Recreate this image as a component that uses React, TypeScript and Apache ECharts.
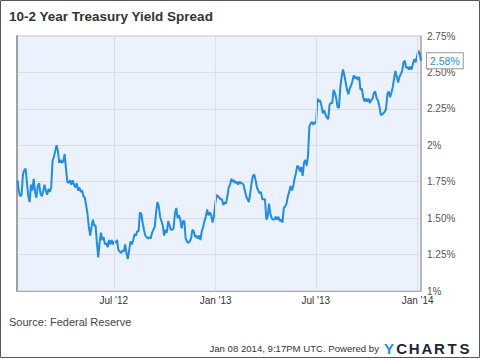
import React, { useEffect, useRef } from "react";
import * as echarts from "echarts";

const FONT = "'Liberation Sans', Arial, Helvetica, sans-serif";
const LINE_COLOR = "#1e8ce8";
const GRID_LINE = "#dcdee3";

const TITLE = "10-2 Year Treasury Yield Spread";
const SOURCE = "Source: Federal Reserve";
const STAMP = "Jan 08 2014, 9:17PM UTC. Powered by";
const MONTHS = ["Jan", "Feb", "Mar", "Apr", "May", "Jun", "Jul", "Aug", "Sep", "Oct", "Nov", "Dec"];

// First and last observation dates, and the axis window
const FIRST_DATE = [2012, 0, 9];
const LAST_DATE = [2014, 0, 7];
const AXIS_START = [2012, 0, 8];
const AXIS_END = [2014, 0, 7];

// x-axis tick dates (labelled gridlines)
const X_TICKS = [
  [2012, 6, 1],
  [2013, 0, 1],
  [2013, 6, 1],
  [2014, 0, 1],
];

// 10y-2y spread (%), in date order
const spreadQ1Q2_2012 = [
  1.76, 1.68, 1.65, 1.66, 1.80, 1.83, 1.84, 1.74, 1.65, 1.61,
  1.73, 1.69, 1.77, 1.68, 1.64, 1.72, 1.74, 1.67, 1.65, 1.68,
  1.73, 1.69, 1.66, 1.70, 1.68, 1.71, 1.89, 1.92, 1.96, 2.00,
  1.96, 1.88, 1.90, 1.88, 1.89, 1.94, 1.84, 1.75, 1.74, 1.76,
  1.73, 1.76, 1.73, 1.71, 1.74, 1.69, 1.71, 1.68, 1.69, 1.65,
  1.64, 1.59, 1.53, 1.44, 1.38, 1.44, 1.49, 1.45, 1.45,
];
const spreadQ3Q4_2012 = [
  1.33, 1.23, 1.33, 1.40, 1.35, 1.37, 1.32, 1.33, 1.30, 1.35,
  1.32, 1.35, 1.32, 1.34, 1.33, 1.35, 1.28, 1.27, 1.26, 1.28,
  1.27, 1.32, 1.26, 1.22, 1.28, 1.34, 1.32, 1.35, 1.39, 1.38,
  1.41, 1.41, 1.54, 1.53, 1.47, 1.42, 1.38, 1.37, 1.36, 1.37,
  1.36, 1.40, 1.42, 1.44, 1.54, 1.61, 1.58, 1.51, 1.48, 1.45,
  1.38, 1.42, 1.40, 1.48, 1.45, 1.42, 1.42, 1.43, 1.53, 1.57,
];
const spreadQ1Q2_2013a = [
  1.50, 1.52, 1.49, 1.43, 1.48, 1.48, 1.36, 1.34, 1.33, 1.34,
  1.36, 1.42, 1.41, 1.37, 1.38, 1.36, 1.38, 1.35, 1.41, 1.44,
  1.48, 1.51, 1.56, 1.52, 1.54, 1.52, 1.47, 1.51, 1.60, 1.66,
  1.65, 1.64, 1.63, 1.63, 1.59, 1.61, 1.60, 1.65, 1.71, 1.73,
  1.77, 1.75, 1.76, 1.74, 1.75, 1.73, 1.75, 1.74, 1.74, 1.73,
  1.69, 1.65, 1.63, 1.61, 1.67, 1.74, 1.79, 1.80,
];
const spreadQ2Q3_2013 = [
  1.76, 1.71, 1.69, 1.67, 1.68, 1.63, 1.63, 1.63, 1.49, 1.51,
  1.60, 1.53, 1.50, 1.49, 1.49, 1.51, 1.49, 1.51, 1.48, 1.49,
  1.47, 1.57, 1.58, 1.60, 1.65, 1.68, 1.72, 1.69, 1.72, 1.77,
  1.81, 1.86, 1.85, 1.82, 1.85, 1.79, 1.88, 1.90, 1.86, 1.93,
  2.13, 2.15, 2.16, 2.14, 2.16, 2.15, 2.32, 2.30, 2.31, 2.27,
  2.22, 2.24, 2.21, 2.19, 2.18, 2.28, 2.29, 2.29, 2.38, 2.36,
];
const spreadQ3Q4_2013 = [
  2.32, 2.26, 2.26, 2.40, 2.47, 2.52, 2.48, 2.43, 2.38, 2.35,
  2.39, 2.41, 2.44, 2.48, 2.46, 2.47, 2.45, 2.47, 2.38, 2.39,
  2.33, 2.30, 2.32, 2.30, 2.32, 2.29, 2.31, 2.32, 2.36, 2.37,
  2.32, 2.31, 2.27, 2.21, 2.21, 2.22, 2.23, 2.25, 2.35, 2.37,
  2.33, 2.36, 2.40, 2.46, 2.51, 2.47, 2.43, 2.47, 2.49, 2.51,
  2.57, 2.58, 2.53, 2.54, 2.52, 2.54, 2.52, 2.56, 2.59, 2.57,
  2.61, 2.65, 2.63, 2.58,
];

const Y_MIN = 1;
const Y_MAX = 2.75;
const Y_STEP = 0.25;

const YCHARTS_LETTERS = ["Y", "C", "H", "A", "R", "T", "S"];

function ts(p: number[]) {
  return new Date(p[0], p[1], p[2]).getTime();
}

function fmtMonth(val: number) {
  const d = new Date(val);
  return MONTHS[d.getMonth()] + " '" + String(d.getFullYear()).slice(2);
}

export default function App() {
  const ref = useRef<HTMLDivElement>(null);

  useEffect(() => {
    if (!ref.current) return;
    const chart = echarts.init(ref.current, undefined, { renderer: "svg" });

    const values = [
      ...spreadQ1Q2_2012,
      ...spreadQ3Q4_2012,
      ...spreadQ1Q2_2013a,
      ...spreadQ2Q3_2013,
      ...spreadQ3Q4_2013,
    ];
    const t0 = ts(FIRST_DATE);
    const t1 = ts(LAST_DATE);
    const step = (t1 - t0) / (values.length - 1);
    const data = values.map((v, i) => [t0 + i * step, v]);

    const letterGraphics = YCHARTS_LETTERS.map((ch, i) => ({
      type: "text",
      x: 389 + i * 12.6,
      y: 348,
      style: {
        text: ch,
        fill: i === 0 ? "#1b8fe3" : "#1c2736",
        font: `bold 15px ${FONT}`,
        textAlign: "center",
        textVerticalAlign: "middle",
      },
    }));

    chart.setOption({
      animation: false,
      backgroundColor: "#ffffff",
      title: {
        text: TITLE,
        left: 4,
        top: 4,
        textStyle: { fontSize: 13.5, fontWeight: "bold", color: "#333", fontFamily: FONT },
      },
      grid: {
        left: 17,
        right: 59,
        top: 36,
        bottom: 67,
        show: true,
        backgroundColor: "#ecf2fd",
        borderColor: "#c4c4c4",
        borderWidth: 1,
      },
      xAxis: {
        type: "time",
        min: ts(AXIS_START),
        max: ts(AXIS_END),
        axisLine: { show: true, lineStyle: { color: "#aaa", width: 1 } },
        axisTick: { show: false },
        splitLine: { show: false },
        axisLabel: { show: false },
      },
      yAxis: [
        {
          type: "value",
          position: "right",
          min: Y_MIN,
          max: Y_MAX,
          interval: Y_STEP,
          axisLine: { show: true, lineStyle: { color: "#aaa", width: 1.5 } },
          axisTick: { show: false },
          splitLine: { show: true, lineStyle: { color: GRID_LINE, width: 1 } },
          axisLabel: {
            color: "#555",
            fontSize: 10,
            fontFamily: FONT,
            margin: 6,
            formatter: (v: number) =>
              (Math.abs(v - Math.round(v)) < 1e-9 ? String(Math.round(v)) : v.toFixed(2)) + "%",
          },
        },
        {
          type: "value",
          position: "left",
          min: Y_MIN,
          max: Y_MAX,
          interval: Y_STEP,
          axisLine: { show: true, lineStyle: { color: "#a0a0a0", width: 2 } },
          axisTick: { show: false },
          splitLine: { show: false },
          axisLabel: { show: false },
        },
      ],
      series: [
        {
          type: "line",
          data,
          z: 1,
          silent: true,
          symbol: "none",
          showSymbol: false,
          lineStyle: { opacity: 0 },
          markLine: {
            silent: true,
            symbol: "none",
            lineStyle: { color: GRID_LINE, type: "solid", width: 1 },
            label: {
              show: true,
              position: "start",
              distance: 4,
              color: "#333",
              fontSize: 10,
              fontFamily: FONT,
              formatter: (p: any) => fmtMonth(p.value),
            },
            data: X_TICKS.map((d) => ({ xAxis: ts(d) })),
          },
        },
        {
          type: "line",
          data,
          z: 3,
          symbol: "none",
          showSymbol: false,
          lineStyle: { color: LINE_COLOR, width: 2 },
          endLabel: {
            show: true,
            formatter: (p: any) => p.value[1].toFixed(2) + "%",
            color: LINE_COLOR,
            backgroundColor: "#fff",
            borderColor: "#999",
            borderWidth: 1,
            padding: [2, 3, 2, 3],
            fontSize: 10.5,
            fontFamily: FONT,
            distance: 6,
          },
        },
      ],
      graphic: [
        {
          type: "rect",
          shape: { x: 0.5, y: 0.5, width: 479, height: 357 },
          style: { fill: "none", stroke: "#555", lineWidth: 1 },
          silent: true,
        },
        {
          type: "text",
          x: 9,
          y: 322,
          style: {
            text: SOURCE,
            fill: "#444",
            font: `11px ${FONT}`,
            textVerticalAlign: "middle",
          },
        },
        {
          type: "text",
          x: 379,
          y: 348,
          style: {
            text: STAMP,
            fill: "#333",
            font: `9.6px ${FONT}`,
            textAlign: "right",
            textVerticalAlign: "middle",
          },
        },
        ...letterGraphics,
      ],
    });

    return () => chart.dispose();
  }, []);

  return (
    <div style={{ position: "fixed", left: 0, top: 0, width: 480, height: 358 }}>
      <div ref={ref} style={{ width: 480, height: 358 }} />
    </div>
  );
}
